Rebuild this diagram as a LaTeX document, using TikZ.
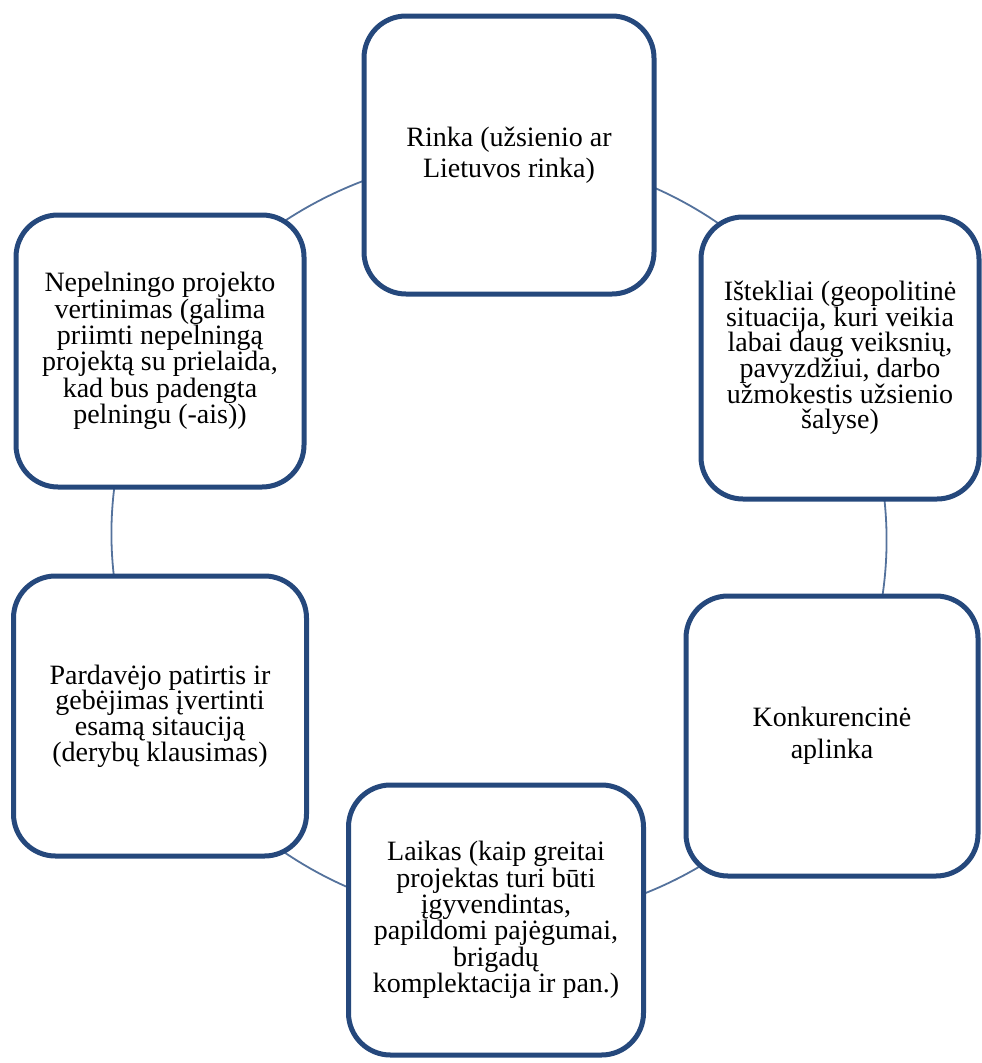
\documentclass[tikz,border=0pt]{standalone}
\usepackage{fontspec}
\setmainfont{Liberation Serif}
\usetikzlibrary{backgrounds}
\definecolor{boxline}{RGB}{37,72,124}
\definecolor{linkline}{RGB}{84,114,156}
\begin{document}
\begin{tikzpicture}[x=1pt,y=-1pt,
  factor/.style={draw=boxline, line width=5pt, rounded corners=42pt,
    fill=white, align=center, inner sep=0pt, text=black},
  pitch/.style={font=\fontsize{28}{#1}\selectfont},
  link/.style={draw=linkline, line width=1.8pt, bend left=30, looseness=0.91}]
\useasboundingbox (0,0) rectangle (982,1063);

% the six factors placed round a circle
\node[factor, pitch=30.5, minimum width=290pt, minimum height=278pt] (b1) at (509,155)
  {Rinka (užsienio ar\\Lietuvos rinka)};
\node[factor, pitch=25.6, minimum width=278pt, minimum height=282pt] (b2) at (840,358)
  {Ištekliai (geopolitinė\\situacija, kuri veikia\\labai daug veiksnių,\\pavyzdžiui, darbo\\užmokestis užsienio\\šalyse)};
\node[factor, pitch=31.5, minimum width=292pt, minimum height=280pt] (b3) at (832,736)
  {Konkurencinė\\aplinka};
\node[factor, pitch=24.2, minimum width=295pt, minimum height=270pt] (b4) at (496,920)
  {Laikas (kaip greitai\\projektas turi būti\\įgyvendintas,\\papildomi pajėgumai,\\brigadų\\komplektacija ir pan.)};
\node[factor, pitch=25.6, minimum width=293pt, minimum height=280pt] (b5) at (160,716)
  {Pardavėjo patirtis ir\\gebėjimas įvertinti\\esamą sitauciją\\(derybų klausimas)};
\node[factor, pitch=25, minimum width=288pt, minimum height=272pt] (b6) at (160,351)
  {Nepelningo projekto\\vertinimas (galima\\priimti nepelningą\\projektą su prielaida,\\kad bus padengta\\pelningu (-ais))};

% circular links behind the boxes
\begin{scope}[on background layer]
  \draw[link] (b1.center) to (b2.center);
  \draw[link] (b2.center) to (b3.center);
  \draw[link] (b3.center) to (b4.center);
  \draw[link] (b4.center) to (b5.center);
  \draw[link] (b5.center) to (b6.center);
  \draw[link] (b6.center) to (b1.center);
\end{scope}
\end{tikzpicture}
\end{document}
